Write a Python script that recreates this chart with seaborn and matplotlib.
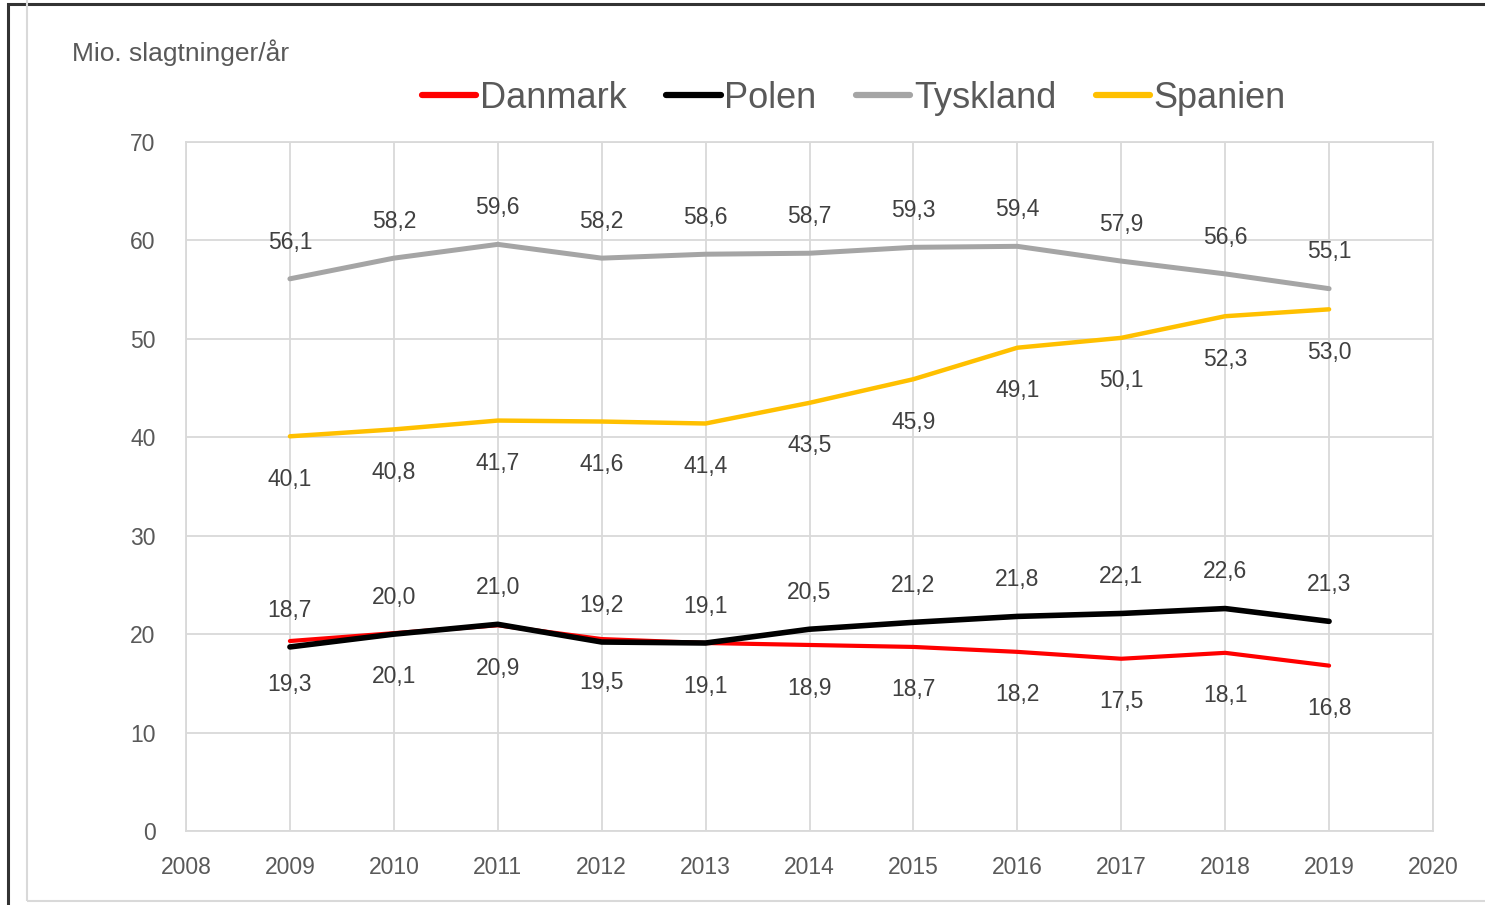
import matplotlib.pyplot as plt
import matplotlib.patches as mpatches
import seaborn as sns
import pandas as pd

years = [2009, 2010, 2011, 2012, 2013, 2014, 2015, 2016, 2017, 2018, 2019]
danmark = [19.3, 20.1, 20.9, 19.5, 19.1, 18.9, 18.7, 18.2, 17.5, 18.1, 16.8]
polen = [18.7, 20.0, 21.0, 19.2, 19.1, 20.5, 21.2, 21.8, 22.1, 22.6, 21.3]
tyskland = [56.1, 58.2, 59.6, 58.2, 58.6, 58.7, 59.3, 59.4, 57.9, 56.6, 55.1]
spanien = [40.1, 40.8, 41.7, 41.6, 41.4, 43.5, 45.9, 49.1, 50.1, 52.3, 53.0]

series = {"Danmark": danmark, "Polen": polen, "Tyskland": tyskland, "Spanien": spanien}
colors = {"Danmark": "#ff0000", "Polen": "#000000", "Tyskland": "#a5a5a5", "Spanien": "#ffc000"}
widths = {"Danmark": 3.0, "Polen": 4.0, "Tyskland": 3.6, "Spanien": 3.2}
# labels above (+) or below (-) the line
label_side = {"Danmark": -1, "Polen": 1, "Tyskland": 1, "Spanien": -1}

rows = []
for name, vals in series.items():
    for y, v in zip(years, vals):
        rows.append({"år": y, "værdi": v, "land": name})
df = pd.DataFrame(rows)

sns.set_style("white")
plt.rcParams["font.family"] = ["Liberation Sans", "DejaVu Sans"]
txt = "#595959"
grid_c = "#d9d9d9"

fig = plt.figure(figsize=(14.85, 9.05), dpi=100)
ax = fig.add_axes([186 / 1485, 1 - 831 / 905, (1433 - 186) / 1485, (831 - 142) / 905])

# outer frames
fig.patches.append(mpatches.Rectangle((8 / 1485, -0.01), 1.1, 1 - 4 / 905 + 0.01, transform=fig.transFigure,
                                      fill=False, edgecolor="#333333", linewidth=2.2, zorder=0))
fig.patches.append(mpatches.Rectangle((27 / 1485, 4 / 905), 1.1, 1.1, transform=fig.transFigure,
                                      fill=False, edgecolor="#d9d9d9", linewidth=1.5, zorder=0))

for name in series:
    sub = df[df["land"] == name]
    sns.lineplot(data=sub, x="år", y="værdi", ax=ax, color=colors[name], linewidth=widths[name],
                 label=name, solid_capstyle="round", solid_joinstyle="round", zorder=3)
    off = 26.5 if label_side[name] > 0 else -31
    for y, v in zip(sub["år"], sub["værdi"]):
        ax.annotate(f"{v:.1f}".replace(".", ","), (y, v), xytext=(0, off),
                    textcoords="offset points", ha="center", va="center", fontsize=16.5, color="#404040")

ax.set_xlim(2008, 2020)
ax.set_ylim(0, 70)
ax.set_xticks(range(2008, 2021))
ax.set_yticks(range(0, 71, 10))
ax.grid(True, color=grid_c, linewidth=1.3)
for s in ax.spines.values():
    s.set_color(grid_c)
    s.set_linewidth(1.3)
ax.tick_params(axis="both", length=0, labelsize=16.5, labelcolor=txt)
ax.tick_params(axis="x", pad=18)
ax.tick_params(axis="y", pad=22)
ax.set_xlabel("")
ax.set_ylabel("")

fig.text(72 / 1485, 1 - 53 / 905, "Mio. slagtninger/år", fontsize=19, color=txt, va="center", ha="left")

leg = ax.legend(loc="center", bbox_to_anchor=(854 / 1485, 1 - 98 / 905), bbox_transform=fig.transFigure,
                ncol=4, frameon=False, fontsize=26, handlelength=1.5, handletextpad=0.1,
                columnspacing=1.1)
for t in leg.get_texts():
    t.set_color(txt)
for h in leg.get_lines():
    h.set_linewidth(4.5)

fig.savefig("out.png", dpi=100)
